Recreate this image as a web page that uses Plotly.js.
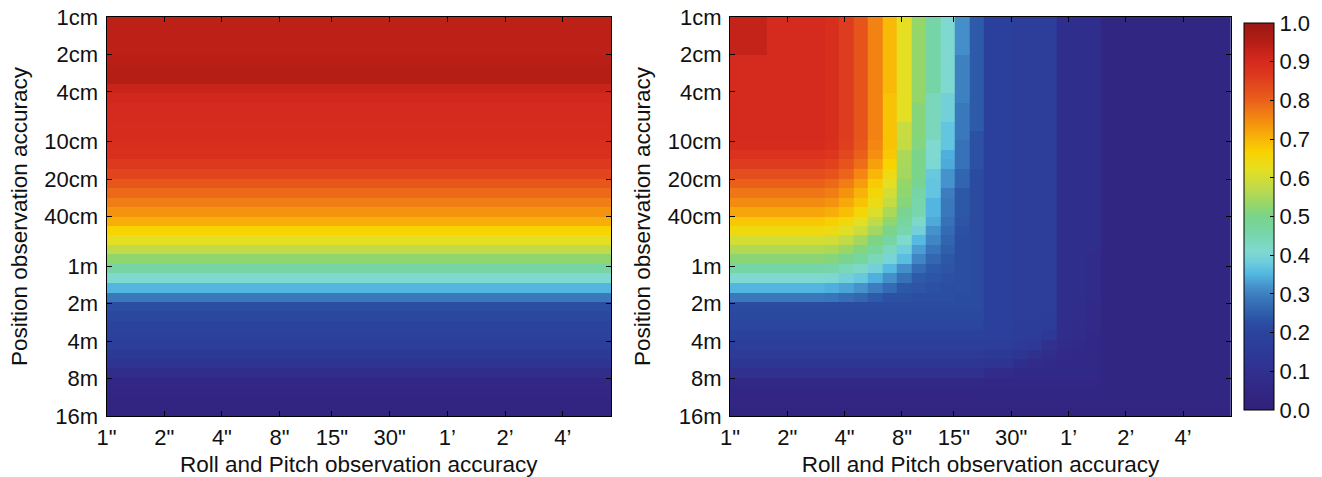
<!DOCTYPE html>
<html>
<head>
<meta charset="utf-8">
<script src="https://cdn.plot.ly/plotly-3.0.1.min.js"></script>
<style>
  html, body { margin: 0; padding: 0; background: #fff; }
  #chart { width: 1322px; height: 477px; }
</style>
</head>
<body>
<div id="chart"></div>
<script>
// Roll and pitch observation accuracy, column centres (arcsec)
const rollPitchArcsec = [1, 1.192, 1.421, 1.694, 2.019, 2.407, 2.869, 3.420, 4.077, 4.860,
  5.793, 6.906, 8.232, 9.813, 11.70, 13.94, 16.62, 19.81, 23.62, 28.15, 33.56, 40.00,
  47.68, 56.84, 67.76, 80.77, 96.28, 114.8, 136.8, 163.1, 194.4, 231.7, 276.2, 329.3, 392.5];

// Position observation accuracy, row centres (cm)
const positionCm = [1.092, 1.302, 1.551, 1.849, 2.205, 2.628, 3.133, 3.734, 4.451, 5.306,
  6.325, 7.540, 8.988, 10.71, 12.77, 15.22, 18.15, 21.63, 25.79, 30.74, 36.64, 43.68,
  52.06, 62.06, 73.97, 88.18, 105.1, 125.3, 149.4, 178.1, 212.2, 253.0, 301.6, 359.5,
  428.6, 510.9, 609.0, 725.9, 865.3, 1031, 1230, 1466];

// Tick marks
const rollTickVals = [1, 2, 4, 8, 15, 30, 60, 120, 240];
const rollTickText = ['1"', '2"', '4"', '8"', '15"', '30"', '1\u2019', '2\u2019', '4\u2019'];
const posTickVals = [1, 2, 4, 10, 20, 40, 100, 200, 400, 800, 1600];
const posTickText = ['1cm', '2cm', '4cm', '10cm', '20cm', '40cm', '1m', '2m', '4m', '8m', '16m'];
const scaleTickVals = [0, 0.1, 0.2, 0.3, 0.4, 0.5, 0.6, 0.7, 0.8, 0.9, 1.0];

// Left panel: value per position row (independent of roll/pitch accuracy)
const positionOnlyValues = [0.94, 0.94, 0.94, 0.94, 0.945, 0.95, 0.95, 0.925, 0.91, 0.90,
  0.90, 0.895, 0.895, 0.89, 0.885, 0.865, 0.845, 0.815, 0.79, 0.765, 0.74, 0.71,
  0.665, 0.62, 0.575, 0.525, 0.465, 0.41, 0.35, 0.29, 0.225, 0.21, 0.20, 0.185,
  0.165, 0.145, 0.115, 0.085, 0.055, 0.045, 0.04, 0.04];

// Right panel: combined position + roll/pitch values (rows = position, cols = roll/pitch)
const combinedValues = [
  [0.93,0.93,0.93,0.9,0.9,0.9,0.9,0.89,0.86,0.82,0.76,0.695,0.62,0.53,0.46,0.41,0.315,0.245,0.18,0.18,0.165,0.165,0.165,0.09,0.09,0.09,0.05,0.05,0.05,0.05,0.05,0.05,0.05,0.05,0.05],
  [0.93,0.93,0.93,0.9,0.9,0.9,0.9,0.89,0.86,0.82,0.76,0.695,0.62,0.53,0.46,0.41,0.315,0.245,0.18,0.18,0.165,0.165,0.165,0.09,0.09,0.09,0.05,0.05,0.05,0.05,0.05,0.05,0.05,0.05,0.05],
  [0.93,0.93,0.93,0.9,0.9,0.9,0.9,0.89,0.86,0.82,0.76,0.695,0.62,0.53,0.46,0.41,0.315,0.245,0.18,0.18,0.165,0.165,0.165,0.09,0.09,0.09,0.05,0.05,0.05,0.05,0.05,0.05,0.05,0.05,0.05],
  [0.93,0.93,0.93,0.9,0.9,0.9,0.9,0.89,0.86,0.82,0.76,0.695,0.62,0.53,0.46,0.41,0.315,0.245,0.18,0.18,0.165,0.165,0.165,0.09,0.09,0.09,0.05,0.05,0.05,0.05,0.05,0.05,0.05,0.05,0.05],
  [0.9,0.9,0.9,0.9,0.9,0.9,0.9,0.89,0.86,0.82,0.76,0.695,0.62,0.53,0.46,0.41,0.30,0.245,0.18,0.18,0.165,0.165,0.165,0.09,0.09,0.09,0.05,0.05,0.05,0.05,0.05,0.05,0.05,0.05,0.05],
  [0.9,0.9,0.9,0.9,0.9,0.9,0.9,0.89,0.86,0.82,0.76,0.695,0.62,0.53,0.46,0.41,0.30,0.245,0.18,0.18,0.165,0.165,0.165,0.09,0.09,0.09,0.05,0.05,0.05,0.05,0.05,0.05,0.05,0.05,0.05],
  [0.9,0.9,0.9,0.9,0.9,0.9,0.9,0.89,0.86,0.82,0.76,0.695,0.62,0.53,0.46,0.41,0.30,0.245,0.18,0.18,0.165,0.165,0.165,0.09,0.09,0.09,0.05,0.05,0.05,0.05,0.05,0.05,0.05,0.05,0.05],
  [0.9,0.9,0.9,0.9,0.9,0.9,0.9,0.89,0.86,0.82,0.76,0.695,0.62,0.53,0.46,0.41,0.30,0.245,0.18,0.18,0.165,0.165,0.165,0.09,0.09,0.09,0.05,0.05,0.05,0.05,0.05,0.05,0.05,0.05,0.05],
  [0.9,0.9,0.9,0.9,0.9,0.9,0.9,0.89,0.86,0.82,0.76,0.685,0.62,0.53,0.435,0.39,0.30,0.245,0.18,0.18,0.165,0.165,0.165,0.09,0.09,0.09,0.05,0.05,0.05,0.05,0.05,0.05,0.05,0.05,0.05],
  [0.9,0.9,0.9,0.9,0.9,0.9,0.9,0.89,0.86,0.82,0.76,0.685,0.62,0.515,0.435,0.39,0.29,0.245,0.18,0.18,0.165,0.165,0.165,0.09,0.09,0.09,0.05,0.05,0.05,0.05,0.05,0.05,0.05,0.05,0.05],
  [0.9,0.9,0.9,0.9,0.9,0.9,0.9,0.89,0.86,0.82,0.76,0.685,0.62,0.515,0.435,0.39,0.29,0.245,0.18,0.18,0.165,0.165,0.165,0.09,0.09,0.09,0.05,0.05,0.05,0.05,0.05,0.05,0.05,0.05,0.05],
  [0.9,0.9,0.9,0.9,0.9,0.9,0.9,0.89,0.86,0.82,0.76,0.685,0.585,0.515,0.435,0.37,0.29,0.245,0.18,0.18,0.165,0.165,0.165,0.09,0.09,0.09,0.05,0.05,0.05,0.05,0.05,0.05,0.05,0.05,0.05],
  [0.9,0.9,0.9,0.9,0.9,0.9,0.9,0.89,0.86,0.82,0.76,0.685,0.585,0.515,0.435,0.37,0.29,0.23,0.18,0.18,0.165,0.165,0.165,0.09,0.09,0.09,0.05,0.05,0.05,0.05,0.05,0.05,0.05,0.05,0.05],
  [0.895,0.895,0.895,0.895,0.895,0.895,0.895,0.885,0.855,0.815,0.755,0.685,0.58,0.51,0.41,0.37,0.28,0.23,0.18,0.18,0.165,0.165,0.165,0.09,0.09,0.09,0.05,0.05,0.05,0.05,0.05,0.05,0.05,0.05,0.05],
  [0.88,0.88,0.88,0.88,0.88,0.88,0.88,0.87,0.84,0.80,0.745,0.68,0.555,0.50,0.41,0.345,0.28,0.23,0.18,0.18,0.165,0.165,0.165,0.09,0.09,0.09,0.05,0.05,0.05,0.05,0.05,0.05,0.05,0.05,0.05],
  [0.86,0.86,0.86,0.86,0.86,0.86,0.86,0.85,0.82,0.785,0.725,0.665,0.55,0.50,0.405,0.34,0.28,0.23,0.18,0.18,0.165,0.165,0.165,0.09,0.09,0.09,0.05,0.05,0.05,0.05,0.05,0.05,0.05,0.05,0.05],
  [0.83,0.83,0.83,0.83,0.83,0.83,0.83,0.82,0.795,0.755,0.70,0.64,0.545,0.495,0.375,0.32,0.26,0.22,0.18,0.18,0.165,0.165,0.165,0.09,0.09,0.09,0.05,0.05,0.05,0.05,0.05,0.05,0.05,0.05,0.05],
  [0.80,0.80,0.80,0.80,0.80,0.80,0.80,0.79,0.765,0.73,0.675,0.62,0.53,0.49,0.37,0.32,0.26,0.22,0.18,0.18,0.165,0.165,0.165,0.09,0.09,0.09,0.05,0.05,0.05,0.05,0.05,0.05,0.05,0.05,0.05],
  [0.775,0.775,0.775,0.775,0.775,0.775,0.775,0.765,0.74,0.705,0.655,0.60,0.525,0.46,0.37,0.295,0.24,0.22,0.18,0.18,0.165,0.165,0.165,0.09,0.09,0.09,0.05,0.05,0.05,0.05,0.05,0.05,0.05,0.05,0.05],
  [0.75,0.75,0.75,0.75,0.75,0.75,0.75,0.74,0.715,0.685,0.635,0.58,0.515,0.455,0.35,0.29,0.24,0.22,0.18,0.18,0.165,0.165,0.165,0.09,0.09,0.09,0.05,0.05,0.05,0.05,0.05,0.05,0.05,0.05,0.05],
  [0.72,0.72,0.72,0.72,0.72,0.72,0.72,0.71,0.69,0.655,0.61,0.555,0.49,0.45,0.35,0.29,0.24,0.22,0.18,0.18,0.165,0.165,0.165,0.09,0.09,0.09,0.05,0.05,0.05,0.05,0.05,0.05,0.05,0.05,0.05],
  [0.68,0.68,0.68,0.68,0.68,0.68,0.68,0.67,0.65,0.62,0.575,0.525,0.47,0.42,0.34,0.28,0.235,0.22,0.18,0.18,0.165,0.165,0.165,0.09,0.09,0.09,0.05,0.05,0.05,0.05,0.05,0.05,0.05,0.05,0.05],
  [0.645,0.645,0.645,0.645,0.645,0.645,0.645,0.64,0.615,0.59,0.545,0.50,0.45,0.39,0.32,0.27,0.23,0.22,0.18,0.18,0.165,0.165,0.165,0.09,0.09,0.09,0.05,0.05,0.05,0.05,0.05,0.05,0.05,0.05,0.05],
  [0.60,0.60,0.60,0.60,0.60,0.60,0.60,0.595,0.575,0.545,0.505,0.465,0.415,0.355,0.305,0.26,0.225,0.22,0.18,0.18,0.165,0.165,0.165,0.09,0.09,0.09,0.05,0.05,0.05,0.05,0.05,0.05,0.05,0.05,0.05],
  [0.56,0.56,0.56,0.56,0.56,0.56,0.56,0.555,0.535,0.51,0.475,0.43,0.385,0.33,0.285,0.25,0.225,0.22,0.18,0.18,0.165,0.165,0.165,0.09,0.09,0.085,0.05,0.05,0.05,0.05,0.05,0.05,0.05,0.05,0.05],
  [0.52,0.52,0.52,0.52,0.52,0.52,0.52,0.515,0.495,0.475,0.44,0.40,0.36,0.305,0.265,0.24,0.225,0.22,0.18,0.18,0.165,0.165,0.165,0.09,0.09,0.075,0.05,0.05,0.05,0.05,0.05,0.05,0.05,0.05,0.05],
  [0.46,0.46,0.46,0.46,0.46,0.46,0.46,0.455,0.44,0.42,0.39,0.355,0.315,0.27,0.245,0.235,0.225,0.22,0.18,0.18,0.165,0.165,0.165,0.09,0.09,0.075,0.05,0.05,0.05,0.05,0.05,0.05,0.05,0.05,0.05],
  [0.41,0.41,0.41,0.41,0.41,0.41,0.41,0.405,0.39,0.375,0.345,0.315,0.28,0.245,0.235,0.23,0.225,0.22,0.18,0.18,0.165,0.165,0.165,0.09,0.09,0.075,0.05,0.05,0.05,0.05,0.05,0.05,0.05,0.05,0.05],
  [0.35,0.35,0.35,0.35,0.35,0.35,0.35,0.345,0.335,0.32,0.295,0.27,0.24,0.235,0.23,0.225,0.225,0.22,0.18,0.18,0.165,0.165,0.165,0.09,0.09,0.075,0.05,0.05,0.05,0.05,0.05,0.05,0.05,0.05,0.05],
  [0.29,0.29,0.29,0.29,0.29,0.29,0.29,0.285,0.275,0.265,0.245,0.23,0.23,0.225,0.225,0.225,0.22,0.22,0.18,0.18,0.165,0.165,0.165,0.09,0.09,0.075,0.05,0.05,0.05,0.05,0.05,0.05,0.05,0.05,0.05],
  [0.22,0.22,0.22,0.22,0.22,0.22,0.22,0.22,0.22,0.22,0.22,0.22,0.22,0.22,0.22,0.22,0.22,0.22,0.18,0.18,0.165,0.165,0.165,0.09,0.085,0.07,0.05,0.05,0.05,0.05,0.05,0.05,0.05,0.05,0.05],
  [0.21,0.21,0.21,0.21,0.21,0.21,0.21,0.21,0.21,0.21,0.21,0.21,0.21,0.21,0.21,0.21,0.21,0.21,0.18,0.18,0.165,0.165,0.16,0.09,0.085,0.07,0.05,0.05,0.05,0.05,0.05,0.05,0.05,0.05,0.05],
  [0.205,0.205,0.205,0.205,0.205,0.205,0.205,0.205,0.205,0.205,0.205,0.205,0.205,0.205,0.205,0.205,0.205,0.205,0.18,0.18,0.16,0.16,0.155,0.09,0.08,0.07,0.05,0.05,0.05,0.05,0.05,0.05,0.05,0.05,0.05],
  [0.19,0.19,0.19,0.19,0.19,0.19,0.19,0.19,0.19,0.19,0.19,0.19,0.19,0.19,0.19,0.19,0.19,0.19,0.175,0.175,0.155,0.155,0.14,0.085,0.075,0.065,0.05,0.05,0.05,0.05,0.05,0.05,0.05,0.05,0.05],
  [0.17,0.17,0.17,0.17,0.17,0.17,0.17,0.17,0.17,0.17,0.17,0.17,0.17,0.17,0.17,0.17,0.17,0.17,0.165,0.165,0.15,0.14,0.10,0.08,0.07,0.06,0.05,0.05,0.05,0.05,0.05,0.05,0.05,0.05,0.05],
  [0.15,0.15,0.15,0.15,0.15,0.15,0.15,0.15,0.15,0.15,0.15,0.15,0.15,0.15,0.15,0.15,0.15,0.15,0.145,0.145,0.13,0.10,0.085,0.07,0.065,0.06,0.05,0.05,0.05,0.05,0.05,0.05,0.05,0.05,0.05],
  [0.13,0.13,0.13,0.13,0.13,0.13,0.13,0.13,0.13,0.13,0.13,0.13,0.13,0.13,0.13,0.13,0.13,0.13,0.12,0.12,0.09,0.08,0.07,0.06,0.06,0.06,0.05,0.05,0.05,0.05,0.05,0.05,0.05,0.05,0.05],
  [0.10,0.10,0.10,0.10,0.10,0.10,0.10,0.10,0.10,0.10,0.10,0.10,0.10,0.10,0.10,0.10,0.10,0.10,0.08,0.08,0.065,0.065,0.065,0.065,0.065,0.065,0.05,0.05,0.05,0.05,0.05,0.05,0.05,0.05,0.05],
  [0.06,0.06,0.06,0.06,0.06,0.06,0.06,0.06,0.06,0.06,0.06,0.06,0.06,0.06,0.06,0.06,0.06,0.06,0.055,0.055,0.055,0.055,0.055,0.055,0.055,0.055,0.05,0.05,0.05,0.05,0.05,0.05,0.05,0.05,0.05],
  [0.05,0.05,0.05,0.05,0.05,0.05,0.05,0.05,0.05,0.05,0.05,0.05,0.05,0.05,0.05,0.05,0.05,0.05,0.05,0.05,0.05,0.05,0.05,0.05,0.05,0.05,0.05,0.05,0.05,0.05,0.05,0.05,0.05,0.05,0.05],
  [0.045,0.045,0.045,0.045,0.045,0.045,0.045,0.045,0.045,0.045,0.045,0.045,0.045,0.045,0.045,0.045,0.045,0.045,0.045,0.045,0.045,0.045,0.045,0.045,0.045,0.045,0.045,0.045,0.045,0.045,0.045,0.045,0.045,0.045,0.045],
  [0.04,0.04,0.04,0.04,0.04,0.04,0.04,0.04,0.04,0.04,0.04,0.04,0.04,0.04,0.04,0.04,0.04,0.04,0.04,0.04,0.04,0.04,0.04,0.04,0.04,0.04,0.04,0.04,0.04,0.04,0.04,0.04,0.04,0.04,0.04]
];

// Jet-like colour map used by both panels
const jetScale = [
  [0.00, '#30217a'], [0.05, '#322683'], [0.10, '#30308f'], [0.15, '#2d3a98'],
  [0.20, '#2a449e'], [0.225, '#2b4da2'], [0.25, '#2f5eab'], [0.29, '#3a78bc'],
  [0.32, '#4692cc'], [0.35, '#52b6e0'], [0.38, '#6cccde'], [0.41, '#80d9d0'],
  [0.46, '#76d5a6'], [0.50, '#7ad48a'], [0.53, '#94d66a'], [0.575, '#c0da48'],
  [0.62, '#e4df22'], [0.665, '#f9d300'], [0.70, '#f8b608'], [0.74, '#f5930e'],
  [0.77, '#f07a16'], [0.80, '#ea601a'], [0.84, '#e2481d'], [0.87, '#dc361e'],
  [0.90, '#d52a1e'], [0.925, '#c8241a'], [0.95, '#b51e15'], [1.00, '#9a1812']
];

// Geometric bin edges around log-spaced centres
function binEdges(c) {
  const n = c.length;
  const e = [c[0] / Math.sqrt(c[1] / c[0])];
  for (let k = 1; k < n; k++) e.push(Math.sqrt(c[k - 1] * c[k]));
  e.push(c[n - 1] * Math.sqrt(c[n - 1] / c[n - 2]));
  return e;
}

const xEdges = binEdges(rollPitchArcsec);
const yEdges = binEdges(positionCm);
const zLeft = positionOnlyValues.map(v => rollPitchArcsec.map(() => v));

const W = 1322, H = 477;
const FONT = '"Liberation Sans", Arial, Helvetica, sans-serif';
const TXT = '#111';

const xRange = [Math.log10(rollPitchArcsec[0]), Math.log10(xEdges[xEdges.length - 1])];
const yRange = [Math.log10(yEdges[yEdges.length - 1]), Math.log10(yEdges[0])];

function xAxis(domain, anchor) {
  return {
    type: 'log', domain: domain, anchor: anchor, range: xRange,
    tickmode: 'array', tickvals: rollTickVals, ticktext: rollTickText,
    ticks: 'inside', ticklen: 5, tickwidth: 1, tickcolor: '#000',
    showline: true, linecolor: '#000', linewidth: 1, mirror: 'ticks',
    showgrid: false, zeroline: false, ticklabelstandoff: 2,
    tickfont: { family: FONT, size: 22, color: TXT },
    title: { text: 'Roll and Pitch observation accuracy', font: { family: FONT, size: 22.5, color: TXT }, standoff: 6 }
  };
}
function yAxis(domain, anchor) {
  return {
    type: 'log', domain: domain, anchor: anchor, range: yRange,
    tickmode: 'array', tickvals: posTickVals, ticktext: posTickText,
    ticks: 'inside', ticklen: 5, tickwidth: 1, tickcolor: '#000',
    showline: true, linecolor: '#000', linewidth: 1, mirror: 'ticks',
    showgrid: false, zeroline: false, ticklabelstandoff: 3,
    tickfont: { family: FONT, size: 22, color: TXT },
    title: { text: 'Position observation accuracy', font: { family: FONT, size: 22.5, color: TXT }, standoff: 10 }
  };
}

const yDom = [(H - 416) / H, (H - 17) / H];

const data = [
  { type: 'heatmap', x: xEdges, y: yEdges, z: zLeft, coloraxis: 'coloraxis',
    xaxis: 'x', yaxis: 'y', hoverinfo: 'skip' },
  { type: 'heatmap', x: xEdges, y: yEdges, z: combinedValues, coloraxis: 'coloraxis',
    xaxis: 'x2', yaxis: 'y2', hoverinfo: 'skip' }
];

const layout = {
  width: W, height: H,
  margin: { l: 0, r: 0, t: 0, b: 0 },
  paper_bgcolor: '#fff', plot_bgcolor: '#fff',
  font: { family: FONT, color: TXT },
  showlegend: false,
  xaxis: xAxis([106.5 / W, 611 / W], 'y'),
  yaxis: yAxis(yDom, 'x'),
  xaxis2: xAxis([730 / W, 1231 / W], 'y2'),
  yaxis2: yAxis(yDom, 'x2'),
  coloraxis: {
    cmin: 0, cmax: 1, colorscale: jetScale,
    colorbar: {
      x: 1244 / W, xanchor: 'left', y: (H - 216.5) / H, yanchor: 'middle',
      len: 387, lenmode: 'pixels', thickness: 30, thicknessmode: 'pixels',
      xpad: 0, ypad: 0, outlinewidth: 1, outlinecolor: '#000', borderwidth: 0,
      ticks: 'inside', ticklen: 4, tickwidth: 1, tickcolor: '#000',
      tickmode: 'array', tickvals: scaleTickVals, tickformat: '.1f',
      tickfont: { family: FONT, size: 22, color: TXT }
    }
  }
};

Plotly.newPlot('chart', data, layout, { staticPlot: true, displayModeBar: false });
</script>
</body>
</html>
